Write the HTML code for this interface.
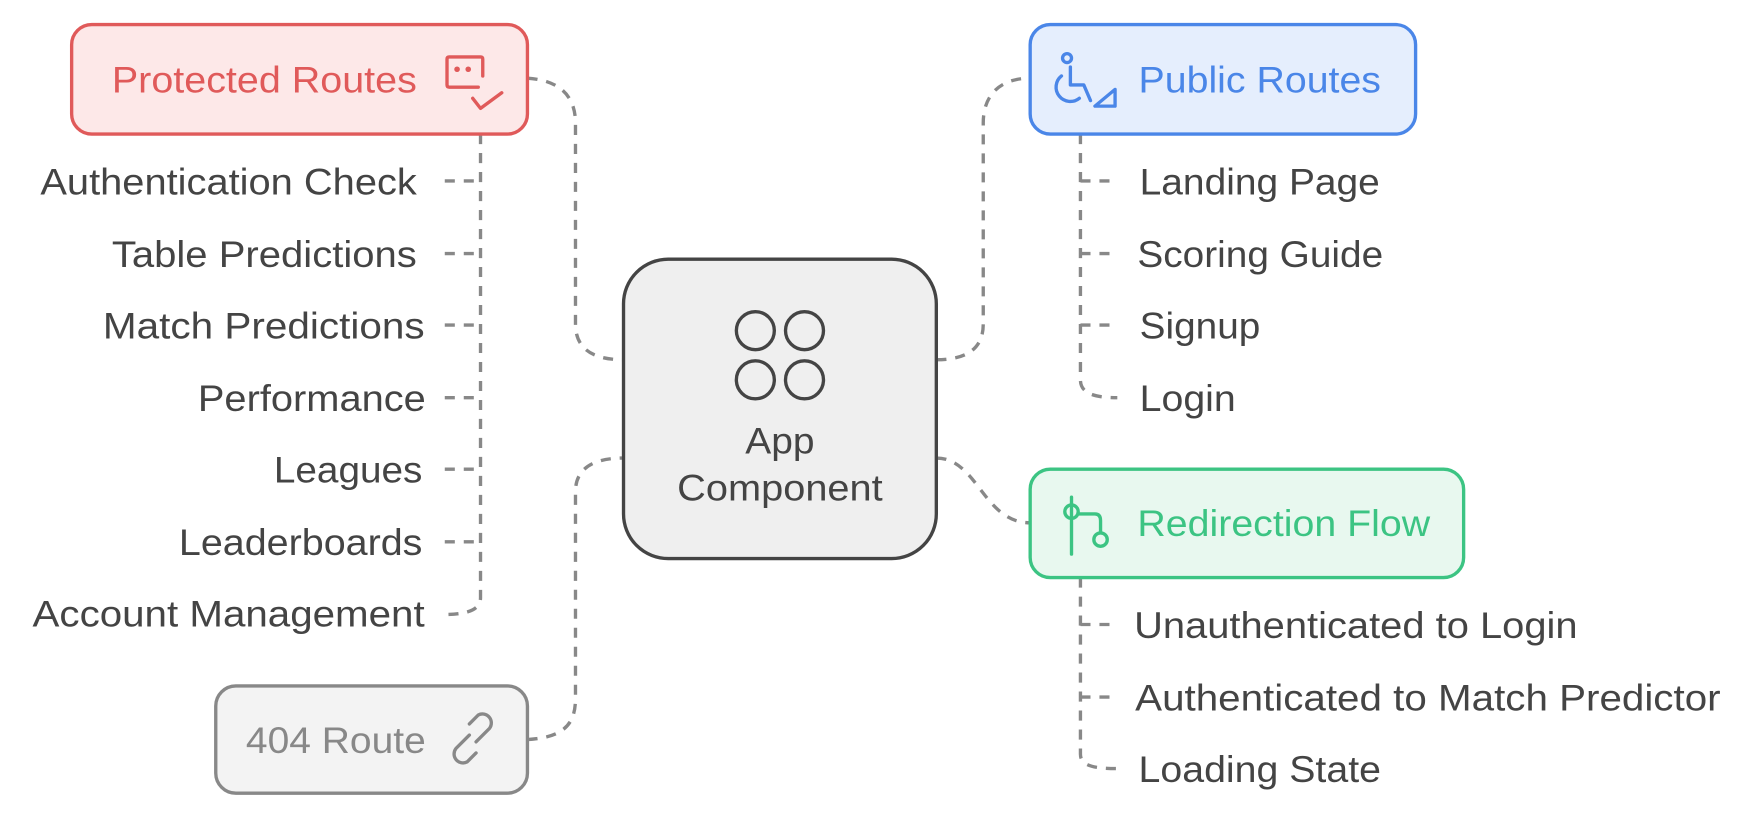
<!DOCTYPE html>
<html><head><meta charset="utf-8"><style>
html,body{margin:0;padding:0;background:#fff;}
svg{display:block}
text{font-family:"Liberation Sans",sans-serif;font-size:33px;fill:#444;}
</style></head><body>
<svg width="1752" height="820" viewBox="0 0 1568 734" xmlns="http://www.w3.org/2000/svg">
<g fill="none" stroke="#888" stroke-width="3" stroke-dasharray="9 8">
<path d="M472,70 C505,72 515,90 515,110 L515,290 C515,312 530,322 558,322"/>
<path d="M430,120 L430,535 C430,545 420,550 398,550"/>
<path d="M398,162 H430 M398,227 H430 M398,291 H430 M398,356 H430 M398,420 H430 M398,485 H430"/>
<path d="M838,322 C868,322 880,310 880,290 L880,110 C880,85 895,70 922,70"/>
<path d="M967,120 L967,340 C967,350 975,356 1000,356"/>
<path d="M967,162 H1000 M967,227 H1000 M967,291 H1000"/>
<path d="M838,410 C875,410 880,468 922,468"/>
<path d="M967,517 L967,675 C967,684 975,688 1000,688"/>
<path d="M967,559 H1000 M967,624 H1000"/>
<path d="M472,662 C505,660 515,648 515,625 L515,440 C515,420 530,410 558,410"/>
</g>
<rect x="64" y="22" width="408" height="98" rx="18" fill="#fde8e8" stroke="#e05a5a" stroke-width="3"/>
<text x="100" y="83" style="fill:#e05a5a" textLength="273" lengthAdjust="spacingAndGlyphs">Protected Routes</text>
<g fill="none" stroke="#e05a5a" stroke-width="3" stroke-linecap="round" stroke-linejoin="round">
<path d="M428,78 H402 Q400,78 400,76 V53 Q400,51 402,51 H430 Q432,51 432,53 V68"/>
<path d="M423,88 L430,97 L449,83"/>
</g>
<circle cx="409" cy="62" r="2.5" fill="#e05a5a"/><circle cx="419" cy="62" r="2.5" fill="#e05a5a"/>

<g text-anchor="end">
<text x="373" y="174" textLength="337" lengthAdjust="spacingAndGlyphs">Authentication Check</text>
<text x="373" y="239" textLength="273" lengthAdjust="spacingAndGlyphs">Table Predictions</text>
<text x="380" y="303" textLength="288" lengthAdjust="spacingAndGlyphs">Match Predictions</text>
<text x="381" y="368" textLength="204" lengthAdjust="spacingAndGlyphs">Performance</text>
<text x="378" y="432" textLength="133" lengthAdjust="spacingAndGlyphs">Leagues</text>
<text x="378" y="497" textLength="218" lengthAdjust="spacingAndGlyphs">Leaderboards</text>
<text x="380" y="561" textLength="351" lengthAdjust="spacingAndGlyphs">Account Management</text>
</g>

<rect x="558" y="232" width="280" height="268" rx="40" fill="#efefef" stroke="#444" stroke-width="3"/>
<g fill="none" stroke="#444" stroke-width="3">
<circle cx="676" cy="296" r="17"/><circle cx="720" cy="296" r="17"/>
<circle cx="676" cy="340" r="17"/><circle cx="720" cy="340" r="17"/>
</g>
<text x="698" y="406" text-anchor="middle" textLength="62" lengthAdjust="spacingAndGlyphs">App</text>
<text x="698" y="448" text-anchor="middle" textLength="184" lengthAdjust="spacingAndGlyphs">Component</text>

<rect x="922" y="22" width="345" height="98" rx="18" fill="#e5eefd" stroke="#4a86e8" stroke-width="3"/>
<text x="1019" y="83" style="fill:#4a86e8" textLength="217" lengthAdjust="spacingAndGlyphs">Public Routes</text>
<g fill="none" stroke="#4a86e8" stroke-width="3" stroke-linecap="round" stroke-linejoin="round">
<circle cx="955" cy="52" r="4"/>
<path d="M958,60 V76 H970 L976,90"/>
<path d="M950,68 A11,11 0 1 0 966,88"/>
<path d="M980,95 H998 V80 Z"/>
</g>
<text x="1020" y="174" textLength="215" lengthAdjust="spacingAndGlyphs">Landing Page</text>
<text x="1018" y="239" textLength="220" lengthAdjust="spacingAndGlyphs">Scoring Guide</text>
<text x="1020" y="303" textLength="108" lengthAdjust="spacingAndGlyphs">Signup</text>
<text x="1020" y="368" textLength="86" lengthAdjust="spacingAndGlyphs">Login</text>

<rect x="922" y="420" width="388" height="97" rx="18" fill="#e8f8ef" stroke="#3cc483" stroke-width="3"/>
<text x="1018" y="480" style="fill:#3cc483" textLength="262" lengthAdjust="spacingAndGlyphs">Redirection Flow</text>
<g fill="none" stroke="#3cc483" stroke-width="3" stroke-linecap="round">
<path d="M959,445 V496"/>
<circle cx="959" cy="458" r="6"/>
<path d="M965,460 H980 Q985,460 985,466 V476"/>
<circle cx="985" cy="483" r="6"/>
</g>
<text x="1015" y="571" textLength="397" lengthAdjust="spacingAndGlyphs">Unauthenticated to Login</text>
<text x="1016" y="636" textLength="524" lengthAdjust="spacingAndGlyphs">Authenticated to Match Predictor</text>
<text x="1019" y="700" textLength="217" lengthAdjust="spacingAndGlyphs">Loading State</text>

<rect x="193" y="614" width="279" height="96" rx="18" fill="#f3f3f3" stroke="#888" stroke-width="3"/>
<text x="220" y="674" style="fill:#888" textLength="161" lengthAdjust="spacingAndGlyphs">404 Route</text>
<g fill="none" stroke="#888" stroke-width="3" stroke-linecap="round">
<path d="M420,658 L408,670 A8,8 0 0 0 418,682 L426,674"/>
<path d="M426,664 L438,652 A8,8 0 0 0 428,640 L420,648"/>
</g>
</svg>
</body></html>
